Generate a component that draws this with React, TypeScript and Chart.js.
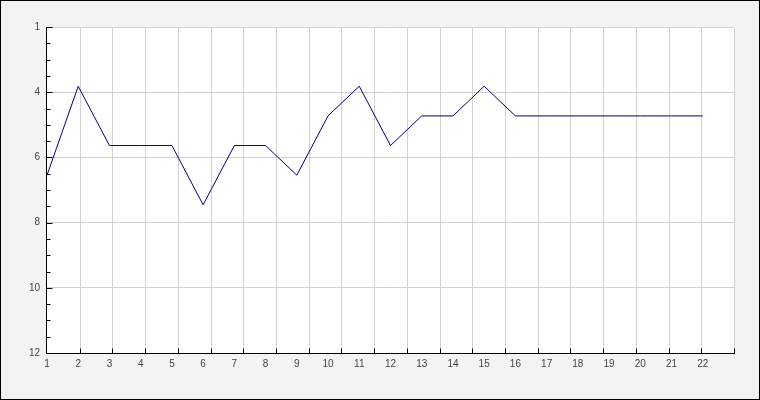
import React, { useEffect, useRef } from "react";
import { Chart, registerables } from "chart.js";

Chart.register(...registerables);

const xCategories = ["1","2","3","4","5","6","7","8","9","10","11","12","13","14","15","16","17","18","19","20","21","22"];
const seriesValues = [6, 3, 5, 5, 5, 7, 5, 5, 6, 4, 3, 5, 4, 4, 3, 4, 4, 4, 4, 4, 4, 4];
const yTickLabels = ["1", "4", "6", "8", "10", "12"];

const Y_MIN = 1;
const Y_MAX = 12;
const X_MIN = 1;
const X_MAX = 23;
const X_DIVISIONS = 21;
const Y_MINOR_PER_MAJOR = 4;

const yMajorValues = yTickLabels.map((_, i) => Y_MIN + (i * (Y_MAX - Y_MIN)) / (yTickLabels.length - 1));
const xGridValues = Array.from({ length: X_DIVISIONS + 1 }, (_, k) => X_MIN + (k * (X_MAX - X_MIN)) / X_DIVISIONS);

const FONT = { family: "'Liberation Sans', Arial, sans-serif", size: 10 };

const framePlugin = {
  id: "frame",
  beforeDraw(chart: any) {
    const { ctx, width, height, chartArea } = chart;
    ctx.save();
    ctx.fillStyle = "#f3f3f3";
    ctx.fillRect(0, 0, width, height);
    ctx.fillStyle = "#ffffff";
    ctx.fillRect(chartArea.left, chartArea.top, chartArea.right - chartArea.left, chartArea.bottom - chartArea.top);
    ctx.restore();
  },
  beforeDatasetsDraw(chart: any) {
    const { ctx, chartArea, scales } = chart;
    ctx.save();
    ctx.strokeStyle = "#d2d2d2";
    ctx.lineWidth = 1;
    xGridValues.forEach((v, k) => {
      if (k === 0) return;
      const px = Math.round(scales.x.getPixelForValue(v)) + 0.5;
      ctx.beginPath();
      ctx.moveTo(px, chartArea.top);
      ctx.lineTo(px, chartArea.bottom);
      ctx.stroke();
    });
    ctx.restore();
  },
  afterDraw(chart: any) {
    const { ctx, chartArea, scales, width, height } = chart;
    ctx.save();
    ctx.strokeStyle = "#000000";
    ctx.lineWidth = 1;
    const left = Math.round(chartArea.left) - 0.5;
    const bottom = Math.round(chartArea.bottom) + 0.5;
    ctx.beginPath();
    ctx.moveTo(left, Math.round(chartArea.top));
    ctx.lineTo(left, bottom + 0.5);
    ctx.moveTo(left - 0.5, bottom);
    ctx.lineTo(Math.round(chartArea.right) + 1, bottom);
    ctx.stroke();
    // y ticks (inward)
    ctx.beginPath();
    for (let i = 0; i < yMajorValues.length; i++) {
      const py = Math.round(scales.y.getPixelForValue(yMajorValues[i])) + 0.5;
      ctx.moveTo(left, py);
      ctx.lineTo(left + 6, py);
      if (i < yMajorValues.length - 1) {
        const step = (yMajorValues[i + 1] - yMajorValues[i]) / Y_MINOR_PER_MAJOR;
        for (let m = 1; m < Y_MINOR_PER_MAJOR; m++) {
          const pm = Math.round(scales.y.getPixelForValue(yMajorValues[i] + m * step)) + 0.5;
          ctx.moveTo(left, pm);
          ctx.lineTo(left + 4, pm);
        }
      }
    }
    // x ticks (inward)
    xGridValues.forEach((v, k) => {
      if (k === 0) return;
      const px = Math.round(scales.x.getPixelForValue(v)) + 0.5;
      ctx.moveTo(px, bottom);
      ctx.lineTo(px, bottom - 5);
    });
    ctx.stroke();
    // outer border
    ctx.strokeRect(0.5, 0.5, width - 1, height - 1);
    ctx.restore();
  },
};

export default function App() {
  const canvasRef = useRef<HTMLCanvasElement | null>(null);

  useEffect(() => {
    document.body.style.margin = "0";
    const canvas = canvasRef.current;
    if (!canvas) return;
    const chart = new Chart(canvas, {
      type: "line",
      data: {
        datasets: [
          {
            data: seriesValues.map((v, i) => ({ x: Number(xCategories[i]), y: v })),
            borderColor: "#000080",
            borderWidth: 1,
            pointRadius: 0,
            tension: 0,
            fill: false,
          },
        ],
      },
      options: {
        responsive: false,
        animation: false,
        devicePixelRatio: 1,
        layout: { padding: { top: 27, right: 26, left: 0, bottom: 0 } },
        plugins: { legend: { display: false }, tooltip: { enabled: false } },
        scales: {
          x: {
            type: "linear",
            min: X_MIN,
            max: X_MAX,
            afterBuildTicks: (scale: any) => {
              scale.ticks = xCategories.map((c) => ({ value: Number(c) }));
            },
            afterFit: (scale: any) => {
              scale.height = 47;
            },
            grid: { display: false, drawTicks: false },
            border: { display: false },
            ticks: {
              autoSkip: false,
              maxRotation: 0,
              padding: 5,
              color: "#444444",
              font: FONT,
              callback: (_v: any, idx: number) => xCategories[idx],
            },
          },
          y: {
            type: "linear",
            reverse: true,
            min: Y_MIN,
            max: Y_MAX,
            afterBuildTicks: (scale: any) => {
              scale.ticks = yMajorValues.map((v) => ({ value: v }));
            },
            afterFit: (scale: any) => {
              scale.width = 47;
            },
            grid: { color: "#d2d2d2", lineWidth: 1, drawTicks: false },
            border: { display: false },
            ticks: {
              padding: 7,
              color: "#444444",
              font: FONT,
              callback: (_v: any, idx: number) => yTickLabels[idx],
            },
          },
        },
      },
      plugins: [framePlugin],
    });
    return () => chart.destroy();
  }, []);

  return (
    <div style={{ width: 760, height: 400 }}>
      <canvas ref={canvasRef} width={760} height={400} style={{ display: "block" }} />
    </div>
  );
}
